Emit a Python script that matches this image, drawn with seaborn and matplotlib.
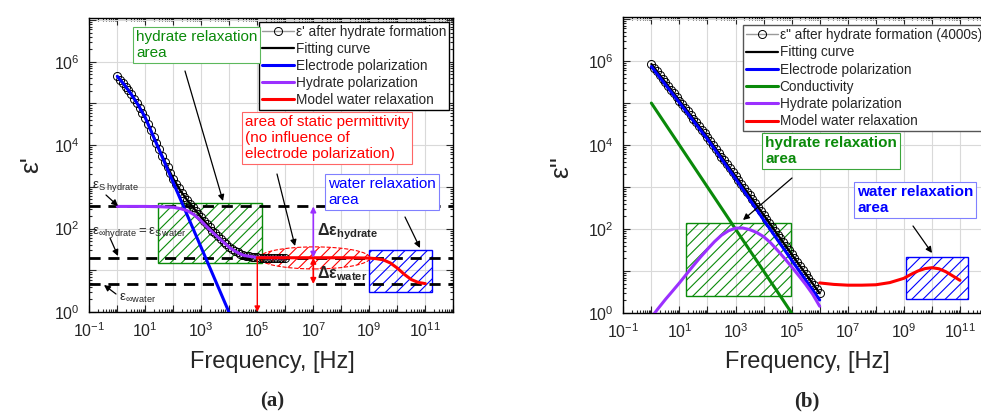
import matplotlib
matplotlib.use("Agg")
import numpy as np
import pandas as pd
import matplotlib.pyplot as plt
import seaborn as sns
from matplotlib.patches import Rectangle, Ellipse
from matplotlib.ticker import FixedLocator, FuncFormatter, LogLocator, NullFormatter

# ---------------------------------------------------------------- data
# measured frequency grid (Hz), shared by both spectra
freq_meas = [1.0, 1.26, 1.58, 2.0, 2.51, 3.16, 3.98, 5.01, 6.31, 7.94,
             10.0, 12.6, 15.8, 20.0, 25.1, 31.6, 39.8, 50.1, 63.1, 79.4,
             100, 126, 158, 200, 251, 316, 398, 501, 631, 794,
             1.0e3, 1.26e3, 1.58e3, 2.0e3, 2.51e3, 3.16e3, 3.98e3, 5.01e3, 6.31e3, 7.94e3,
             1.0e4, 1.26e4, 1.58e4, 2.0e4, 2.51e4, 3.16e4, 3.98e4, 5.01e4, 6.31e4, 7.94e4,
             1.0e5, 1.26e5, 1.58e5, 2.0e5, 2.51e5, 3.16e5, 3.98e5, 5.01e5, 6.31e5, 7.94e5,
             1.0e6]

# (a) real permittivity after hydrate formation
eps1_meas = [4.47e5, 3.72e5, 3.09e5, 2.54e5, 2.05e5, 1.66e5, 1.31e5, 1.03e5, 7.94e4, 6.03e4,
             4.60e4, 3.22e4, 2.26e4, 1.59e4, 1.12e4, 7930, 5640, 4040, 2920, 2130,
             1580, 1190, 920, 724, 581, 478, 391, 326, 271, 224,
             186, 153, 128, 107, 90, 77, 66, 57, 49, 42,
             36.5, 32.7, 29.5, 26.9, 24.9, 23.1, 22.4, 21.8, 21.2, 20.8,
             20.4, 20.2, 20.0, 19.9, 19.8, 19.7, 19.7, 19.6, 19.6, 19.6,
             19.6]

freq_fit1 = [1.0, 1.78, 3.16, 5.62, 10, 17.8, 31.6, 56.2, 100, 178, 316, 562,
             1e3, 1.78e3, 3.16e3, 5.62e3, 1e4, 1.78e4, 3.16e4, 5.62e4, 1e5,
             1.78e5, 3.16e5, 5.62e5, 1e6]
eps1_fit = [4.47e5, 2.8e5, 1.66e5, 9.1e4, 4.6e4, 1.9e4, 7930, 3440, 1580, 820, 478, 297,
            186, 117, 77, 53, 36.5, 28.2, 23.1, 21.5, 20.4, 20.0, 19.7, 19.6, 19.6]

freq_ep1 = [1.0, 1.78, 3.16, 5.62, 10, 31.6, 100, 316, 1e3, 3.16e3, 1e4, 1.78e4]
eps1_ep = [4.47e5, 2.82e5, 1.66e5, 9.1e4, 4.57e4, 7590, 1259, 209, 34.7, 5.75, 0.95, 0.38]

freq_hp1 = [1.0, 10, 31.6, 100, 178, 316, 562, 1e3, 1.78e3, 3.16e3, 5.62e3,
            1e4, 1.78e4, 3.16e4, 5.62e4, 1e5, 3.16e5, 1e6]
eps1_hp = [340, 340, 335, 324, 302, 269, 214, 151, 102, 71, 50,
           35.5, 27.5, 22.9, 21.4, 20.4, 20.0, 20.0]

freq_w1 = [1e5, 1e6, 1e7, 1e8, 3.16e8, 1e9, 1.78e9, 3.16e9, 5.62e9, 1e10,
           1.78e10, 3.16e10, 5.62e10, 1e11]
eps1_w = [20, 20, 20, 20, 19.9, 19.6, 19.0, 17.8, 15.0, 11.3, 8.0, 6.0, 5.1, 4.8]

# characteristic permittivity levels: eps_s hydrate, eps_inf hydrate = eps_s water, eps_inf water
eps_levels = [340, 20, 4.7]

# (b) loss factor after hydrate formation (4000 s)
eps2_meas = [8.51e5, 6.97e5, 5.70e5, 4.67e5, 3.82e5, 3.13e5, 2.56e5, 2.09e5, 1.71e5, 1.40e5,
             1.15e5, 9.40e4, 7.69e4, 6.30e4, 5.15e4, 4.22e4, 3.45e4, 2.82e4, 2.31e4, 1.89e4,
             1.55e4, 1.25e4, 1.01e4, 8150, 6580, 5310, 4290, 3460, 2790, 2250,
             1820, 1470, 1190, 964, 780, 631, 511, 413, 334, 270,
             219, 176, 142, 114, 92, 74, 60, 48, 38.7, 31.2,
             25.1, 20.3, 16.4, 13.2, 10.7, 8.6, 6.95, 5.61, 4.53, 3.66,
             2.95]

freq_fit2 = [1.0, 3.16, 10, 31.6, 100, 316, 1e3, 3.16e3, 1e4, 3.16e4, 1e5, 3.16e5, 1e6]
eps2_fit = [8.51e5, 3.13e5, 1.15e5, 4.22e4, 1.55e4, 5310, 1820, 631, 219, 74, 25.1, 8.6, 2.95]

freq_ep2 = [1.0, 10, 100, 1e3, 1e4, 1e5, 1e6]
eps2_ep = [7.41e5, 1.02e5, 1.38e4, 1585, 166, 18.2, 2.04]

freq_cond = [1.0, 10, 100, 1e3, 1e4, 1e5, 2e5]
eps2_cond = [1e5, 1e4, 1e3, 100, 10, 1.0, 0.5]

freq_hp2 = [1.0, 1.78, 3.16, 5.62, 10, 17.8, 31.6, 56.2, 100, 178, 316, 562,
            1e3, 1.78e3, 3.16e3, 5.62e3, 1e4, 1.78e4, 3.16e4, 5.62e4, 1e5,
            1.78e5, 3.16e5, 5.62e5, 1e6]
eps2_hp = [0.79, 1.3, 2.1, 3.3, 5.2, 8.4, 13.5, 21.4, 33, 50, 71, 91,
           105, 106, 97, 83, 66, 47, 31, 20, 12.6, 7.8, 4.8, 2.8, 1.45]

freq_w2 = [1e6, 3.16e6, 1e7, 3.16e7, 1e8, 3.16e8, 1e9, 1.78e9, 3.16e9, 5.62e9,
           1e10, 1.78e10, 3.16e10, 5.62e10, 1e11]
eps2_w = [5.2, 4.8, 4.6, 4.6, 4.7, 5.3, 6.7, 8.3, 10.0, 11.4, 12.0, 11.3, 9.6, 7.6, 6.0]

# ---------------------------------------------------------------- style
sns.set_style("ticks")
plt.rcParams["font.family"] = ["Liberation Sans", "DejaVu Sans"]
plt.rcParams["mathtext.fontset"] = "custom"
plt.rcParams["mathtext.rm"] = "Liberation Sans"
plt.rcParams["mathtext.it"] = "Liberation Sans:italic"
plt.rcParams["mathtext.bf"] = "Liberation Sans:bold"
plt.rcParams["hatch.linewidth"] = 0.8

GREEN = "#0a8a0a"
BLUE = "#0000ff"
PURPLE = "#9b30ff"
RED = "#ff0000"
GREY = "#9a9a9a"

W, H = 981, 415
fig = plt.figure(figsize=(W / 100, H / 100), dpi=100)
fig.patch.set_facecolor("white")


def fxy(x, y):
    return x / W, 1 - y / H


axL = fig.add_axes([89.3 / W, 1 - 312 / H, (453.3 - 89.3) / W, (312 - 18) / H])
axR = fig.add_axes([623.3 / W, 1 - 313 / H, (988.0 - 623.3) / W, (313 - 17) / H])


def draw(ax, f, v, **kw):
    df = pd.DataFrame({"f": f, "v": v})
    sns.lineplot(data=df, x="f", y="v", ax=ax, sort=False, estimator=None, **kw)
    return ax.lines[-1]


def style_axes(ax):
    ax.set_xscale("log")
    ax.set_yscale("log")
    ax.set_xlim(1e-1, 1e12)
    ax.set_ylim(1.0, 10 ** 7.05)
    ax.xaxis.set_major_locator(FixedLocator([10.0 ** k for k in range(-1, 13)]))
    ax.yaxis.set_major_locator(FixedLocator([10.0 ** k for k in range(0, 8)]))
    ax.xaxis.set_major_formatter(FuncFormatter(
        lambda v, p: r"$\mathregular{10^{%d}}$" % round(np.log10(v)) if round(np.log10(v)) % 2 else ""))
    ax.yaxis.set_major_formatter(FuncFormatter(
        lambda v, p: "" if round(np.log10(v)) % 2 else r"$\mathregular{10^{%d}}$" % round(np.log10(v))))
    ax.xaxis.set_minor_locator(LogLocator(base=10, subs=np.arange(2, 10), numticks=50))
    ax.yaxis.set_minor_locator(LogLocator(base=10, subs=np.arange(2, 10), numticks=50))
    ax.xaxis.set_minor_formatter(NullFormatter())
    ax.yaxis.set_minor_formatter(NullFormatter())
    ax.tick_params(which="both", direction="in", top=True, right=True, labelsize=11.5, width=0.8)
    ax.tick_params(which="major", length=5)
    ax.tick_params(which="minor", length=2.5)
    ax.tick_params(axis="x", which="major", pad=7)
    ax.tick_params(axis="y", which="major", pad=7)
    ax.grid(True, which="major", color="#d9d9d9", lw=0.8)
    ax.set_axisbelow(True)
    for s in ax.spines.values():
        s.set_linewidth(1.0)
        s.set_color("black")
    ax.set_xlabel("")
    ax.set_ylabel("")


for ax in (axL, axR):
    ax.set_xscale("log")
    ax.set_yscale("log")

meas_kw = dict(color=GREY, lw=1.0, marker="o", markersize=5.8, markerfacecolor="none",
               markeredgecolor="black", markeredgewidth=0.7, zorder=3)

# ---------------------------------------------------------------- panel (a)
for lev in eps_levels:
    axL.axhline(lev, color="black", lw=2.0, ls=(0, (4, 2.8)), zorder=2)

axL.add_patch(Rectangle((29, 15), 1.5e5 - 29, 420 - 15, facecolor="none",
                        edgecolor=GREEN, hatch="///", lw=1.0, zorder=1.5))
axL.add_patch(Rectangle((1e9, 3.0), 1.8e11 - 1e9, 31 - 3.0, facecolor="none",
                        edgecolor=BLUE, hatch="///", lw=1.0, zorder=1.5))
axL.add_patch(Ellipse((0.619, 0.184), 0.304, 0.075, transform=axL.transAxes, facecolor="none",
                      edgecolor=RED, hatch="///", lw=0.8, ls="--", zorder=1.6))

hL_meas = draw(axL, freq_meas, eps1_meas, **meas_kw)
hL_fit = draw(axL, freq_fit1, eps1_fit, color="black", lw=1.6, zorder=4)
hL_ep = draw(axL, freq_ep1, eps1_ep, color=BLUE, lw=2.2, zorder=5)
hL_hp = draw(axL, freq_hp1, eps1_hp, color=PURPLE, lw=2.2, zorder=5)
hL_w = draw(axL, freq_w1, eps1_w, color=RED, lw=2.2, zorder=5)

style_axes(axL)
axL.legend([hL_meas, hL_fit, hL_ep, hL_hp, hL_w],
           ["ε' after hydrate formation", "Fitting curve", "Electrode polarization",
            "Hydrate polarization", "Model water relaxation"],
           loc="upper right", bbox_to_anchor=(0.988, 0.985), fontsize=9.8, frameon=True,
           fancybox=False, edgecolor="black", framealpha=1, handlelength=2.4,
           handletextpad=0.1, labelspacing=0.22, borderpad=0.2, borderaxespad=0)

# arrows for the characteristic levels and increments
axL.annotate("", xy=(1e7, eps_levels[0]), xytext=(1e7, eps_levels[1]),
             arrowprops=dict(arrowstyle="<|-|>", color=PURPLE, lw=1.2, mutation_scale=8,
                             shrinkA=0, shrinkB=0), zorder=6)
axL.annotate("", xy=(1e7, eps_levels[1]), xytext=(1e7, eps_levels[2]),
             arrowprops=dict(arrowstyle="<|-|>", color=RED, lw=1.2, mutation_scale=8,
                             shrinkA=0, shrinkB=0), zorder=6)
axL.annotate("", xy=(1e5, 1.0), xytext=(1e5, eps_levels[1]),
             arrowprops=dict(arrowstyle="-|>", color=RED, lw=1.0, mutation_scale=8,
                             shrinkA=0, shrinkB=0), zorder=6)

# ---------------------------------------------------------------- panel (b)
axR.add_patch(Rectangle((17, 2.6), 9.5e4 - 17, 140 - 2.6, facecolor="none",
                        edgecolor=GREEN, hatch="///", lw=1.0, zorder=1.5))
axR.add_patch(Rectangle((1.17e9, 2.1), 2.0e11 - 1.17e9, 22 - 2.1, facecolor="none",
                        edgecolor=BLUE, hatch="///", lw=1.0, zorder=1.5))

hR_meas = draw(axR, freq_meas, eps2_meas, **meas_kw)
hR_fit = draw(axR, freq_fit2, eps2_fit, color="black", lw=1.6, zorder=4)
hR_ep = draw(axR, freq_ep2, eps2_ep, color=BLUE, lw=2.2, zorder=5)
hR_cond = draw(axR, freq_cond, eps2_cond, color=GREEN, lw=2.2, zorder=5)
hR_hp = draw(axR, freq_hp2, eps2_hp, color=PURPLE, lw=2.2, zorder=5)
hR_w = draw(axR, freq_w2, eps2_w, color=RED, lw=2.2, zorder=5)

style_axes(axR)
axR.legend([hR_meas, hR_fit, hR_ep, hR_cond, hR_hp, hR_w],
           ['ε" after hydrate formation (4000s)', "Fitting curve", "Electrode polarization",
            "Conductivity", "Hydrate polarization", "Model water relaxation"],
           loc="upper left", bbox_to_anchor=(0.328, 0.972), fontsize=9.8, frameon=True,
           fancybox=False, edgecolor="#555555", framealpha=1, handlelength=2.4,
           handletextpad=0.1, labelspacing=0.24, borderpad=0.2, borderaxespad=0)

# ---------------------------------------------------------------- labels
fig.text(*fxy(272, 362), "Frequency, [Hz]", ha="center", va="center", fontsize=17)
fig.text(*fxy(807, 362), "Frequency, [Hz]", ha="center", va="center", fontsize=17)
fig.text(*fxy(31, 165), "ε'", ha="center", va="center", fontsize=19, rotation=90)
fig.text(*fxy(561, 167), "ε''", ha="center", va="center", fontsize=19, rotation=90)
fig.text(*fxy(272, 401), "(a)", ha="center", va="center", fontsize=15,
         family="Liberation Serif", fontweight="bold")
fig.text(*fxy(807, 401), "(b)", ha="center", va="center", fontsize=15,
         family="Liberation Serif", fontweight="bold")


def boxed(x, y, s, color, edge, weight="normal"):
    fig.text(*fxy(x, y), s, ha="left", va="top", fontsize=11, color=color, fontweight=weight,
             linespacing=1.2, zorder=8,
             bbox=dict(boxstyle="square,pad=0.2", facecolor="white", edgecolor=edge, lw=0.8))


def arrow(x0, y0, x1, y1, color="black"):
    fig.add_artist(matplotlib.patches.FancyArrowPatch(
        fxy(x0, y0), fxy(x1, y1), transform=fig.transFigure, arrowstyle="-|>",
        mutation_scale=9, color=color, lw=0.9, shrinkA=0, shrinkB=0, zorder=9))


# panel (a) annotations
boxed(136, 30, "hydrate relaxation\narea", GREEN, "#5cb85c")
arrow(185, 71, 223, 201)
boxed(245, 115, "area of static permittivity\n(no influence of\nelectrode polarization)", RED, "#ff6666")
arrow(277, 174, 295, 246)
boxed(328, 177, "water relaxation\narea", BLUE, "#8080ff")
arrow(405, 217, 420, 248)

fig.text(*fxy(92, 186), r"$\mathregular{ε_{S\ hydrate}}$", fontsize=9.5, ha="left", va="center")
arrow(106, 195, 118, 206)
fig.text(*fxy(92, 232), r"$\mathregular{ε_{∞hydrate}=ε_{S\,water}}$", fontsize=9.5,
         ha="left", va="center")
arrow(110, 238, 118, 256)
fig.text(*fxy(119, 298), r"$\mathregular{ε_{∞water}}$", fontsize=9.5, ha="left", va="center")
arrow(116, 294, 104, 285)

fig.text(*fxy(317, 232), r"$\mathregular{\mathbf{Δε}_{\mathbf{hydrate}}}$", fontsize=11.5,
         ha="left", va="center")
fig.text(*fxy(317, 274), r"$\mathregular{\mathbf{Δε}_{\mathbf{water}}}$", fontsize=11.5,
         ha="left", va="center")

# panel (b) annotations
boxed(765, 136, "hydrate relaxation\narea", GREEN, "#3aa53a", weight="bold")
arrow(792, 178, 743, 220)
boxed(857, 185, "water relaxation\narea", BLUE, "#8080ff", weight="bold")
arrow(913, 226, 932, 253)

fig.savefig("out.png", dpi=100, facecolor="white")
